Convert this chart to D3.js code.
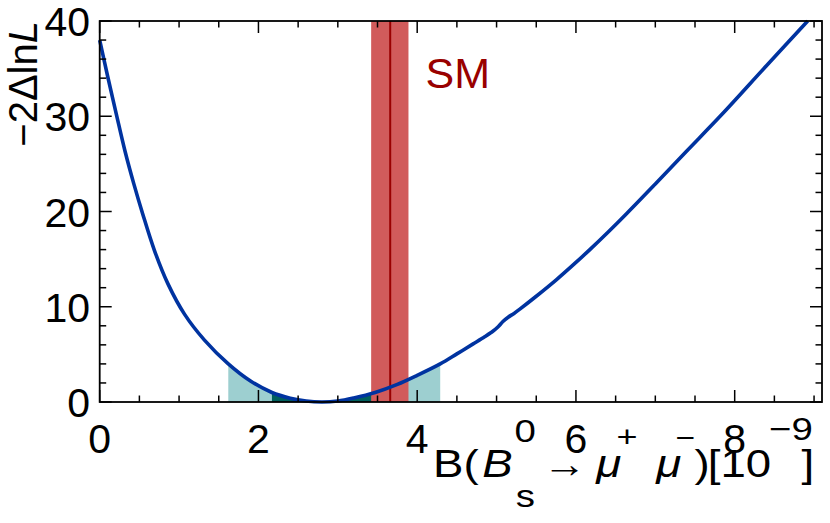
<!DOCTYPE html>
<html>
<head>
<meta charset="utf-8">
<script src="https://cdn.jsdelivr.net/npm/d3@7"></script>
<style>
  body { margin: 0; background: #fff; }
  text { font-family: "Liberation Sans", Arial, Helvetica, sans-serif; }
</style>
</head>
<body>
<div id="chart"></div>
<script>
var bfVals = [0, 0.1, 0.21, 0.32, 0.43, 0.54, 0.69, 0.86, 1.07, 1.32, 1.62, 1.9, 2.17, 2.4, 2.6, 2.8, 3.0, 3.2, 3.47, 3.75, 4.0, 4.29, 4.5, 4.705, 4.85, 4.957, 5.02, 5.08, 5.146, 5.22, 5.293, 5.5, 5.756, 6.0, 6.175, 6.4, 6.64, 7.0, 7.39, 7.84, 8.4, 8.92];
var nllVals = [38, 34.2, 30.2, 26.3, 22.9, 19.8, 15.9, 12.4, 9.2, 6.5, 4.0, 2.2, 1.0, 0.4, 0.1, 0, 0.1, 0.42, 1.0, 1.85, 2.8, 4.0, 5.05, 6.1, 6.85, 7.45, 7.9, 8.45, 8.9, 9.3, 9.75, 11.1, 12.85, 14.65, 16.0, 17.8, 19.8, 22.9, 26.3, 30.2, 35.3, 40];

// intervalles 1 sigma et 2 sigma
var oneSigma = [2.17, 3.47];
var twoSigma = [1.62, 4.29];

// prediction du modele standard
var smCentral = 3.66;
var smBand = [3.42, 3.89];

var xTicks = [0, 2, 4, 6, 8];
var yTicks = [0, 10, 20, 30, 40];

var width = 830,
    height = 523;
var margin = {left: 99.7, right: 8, top: 21, bottom: 121};

var svg = d3.select("#chart")
    .append("svg")
    .attr("width", width)
    .attr("height", height);

var x = d3.scaleLinear()
    .domain([0, 9.1])
    .range([margin.left, width - margin.right]);

var y = d3.scaleLinear()
    .domain([0, 40])
    .range([height - margin.bottom, margin.top]);

var pts = bfVals.map(function(v, i) { return [v, nllVals[i]]; });

var curve = d3.curveCatmullRom.alpha(0.5);

var line = d3.line()
    .x(function(d) { return x(d[0]); })
    .y(function(d) { return y(d[1]); })
    .curve(curve);

var area = d3.area()
    .x(function(d) { return x(d[0]); })
    .y0(y(0))
    .y1(function(d) { return y(d[1]); })
    .curve(curve);

// clips pour remplir sous la courbe seulement dans les intervalles
var defs = svg.append("defs");
[["clip2s", twoSigma], ["clip1s", oneSigma]].forEach(function(c) {
  defs.append("clipPath").attr("id", c[0])
    .append("rect")
    .attr("x", x(c[1][0]))
    .attr("y", margin.top)
    .attr("width", x(c[1][1]) - x(c[1][0]))
    .attr("height", y(0) - margin.top);
});

svg.append("path")
    .datum(pts)
    .attr("d", area)
    .attr("fill", "#9dcfd0")
    .attr("clip-path", "url(#clip2s)");

svg.append("path")
    .datum(pts)
    .attr("d", area)
    .attr("fill", "#00605c")
    .attr("clip-path", "url(#clip1s)");

// bande SM
svg.append("rect")
    .attr("x", x(smBand[0]))
    .attr("y", margin.top)
    .attr("width", x(smBand[1]) - x(smBand[0]))
    .attr("height", y(0) - margin.top)
    .attr("fill", "#d15b5b");

svg.append("line")
    .attr("x1", x(smCentral)).attr("x2", x(smCentral))
    .attr("y1", margin.top).attr("y2", y(0))
    .attr("stroke", "#990000")
    .attr("stroke-width", 2);

svg.append("text")
    .attr("x", x(smBand[1]) + 17)
    .attr("y", 88)
    .attr("fill", "#990000")
    .attr("font-size", 43)
    .text("SM");

// la courbe
svg.append("path")
    .datum(pts)
    .attr("d", line)
    .attr("fill", "none")
    .attr("stroke", "#0033a0")
    .attr("stroke-width", 3.6)
    .attr("stroke-linejoin", "round");

// axes: ticks vers l'interieur sur les 4 cotes
var xMinor = d3.range(0, 9.1, 0.5);
var yMinor = d3.range(0, 40.1, 2);

function tickLen(v, step) { return Math.abs(v / step - Math.round(v / step)) < 1e-6 ? 12 : 6.5; }

var ticks = svg.append("g").attr("stroke", "#000").attr("stroke-width", 1.5);
xMinor.forEach(function(v) {
  var l = tickLen(v, 2);
  ticks.append("line").attr("x1", x(v)).attr("x2", x(v)).attr("y1", y(0)).attr("y2", y(0) - l);
  ticks.append("line").attr("x1", x(v)).attr("x2", x(v)).attr("y1", y(40)).attr("y2", y(40) + l);
});
yMinor.forEach(function(v) {
  var l = tickLen(v, 10);
  ticks.append("line").attr("x1", x.range()[0]).attr("x2", x.range()[0] + l).attr("y1", y(v)).attr("y2", y(v));
  ticks.append("line").attr("x1", x.range()[1]).attr("x2", x.range()[1] - l).attr("y1", y(v)).attr("y2", y(v));
});

svg.append("rect")
    .attr("x", x.range()[0])
    .attr("y", y(40))
    .attr("width", x.range()[1] - x.range()[0])
    .attr("height", y(0) - y(40))
    .attr("fill", "none")
    .attr("stroke", "#000")
    .attr("stroke-width", 1.8);

svg.selectAll(".xlab")
    .data(xTicks)
    .enter().append("text")
    .attr("class", "xlab")
    .attr("x", function(d) { return x(d); })
    .attr("y", 453)
    .attr("text-anchor", "middle")
    .attr("font-size", 41)
    .text(function(d) { return d; });

svg.selectAll(".ylab")
    .data(yTicks)
    .enter().append("text")
    .attr("class", "ylab")
    .attr("x", 90)
    .attr("y", function(d) { return y(d) + 15; })
    .attr("text-anchor", "end")
    .attr("font-size", 41)
    .text(function(d) { return d; });

// titre axe y
var yt = svg.append("text")
    .attr("transform", "translate(37," + 21 + ") rotate(-90)")
    .attr("text-anchor", "end")
    .attr("font-size", 40);
yt.append("tspan").text("\u22122\u0394ln");
yt.append("tspan").attr("font-style", "italic").text("L");

// titre axe x, morceaux places a la main (police un peu etiree en largeur)
var xt = svg.append("g")
    .attr("transform", "translate(433,0) scale(1.2,1)");

function piece(px, py, size, txt, ital) {
  var t = xt.append("text")
      .attr("x", px)
      .attr("y", py)
      .attr("font-size", size)
      .text(txt);
  if (ital) t.attr("font-style", "italic");
  return t;
}

piece(0, 477, 38, "B(");
piece(41, 477, 38, "B", true);
piece(68, 442, 32, "0");
piece(69, 507, 32, "s");
piece(91.5, 477, 38, "\u2192").attr("textLength", 36.5).attr("lengthAdjust", "spacingAndGlyphs");
piece(136, 477, 38, "\u03bc", true);
piece(153, 447, 30, "+");
piece(186, 477, 38, "\u03bc", true);
piece(202, 447, 28, "\u2212");
piece(218, 477, 38, ")");
piece(229, 477, 38, "[10");
piece(280, 440, 32, "\u22129");
piece(307, 477, 38, "]");
</script>
</body>
</html>
